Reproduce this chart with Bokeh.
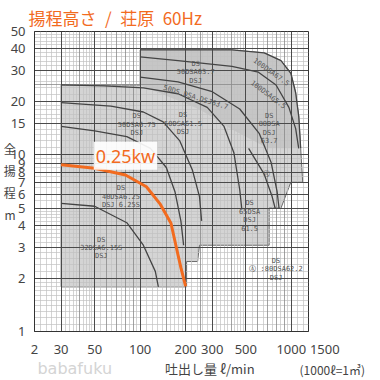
from bokeh.plotting import figure
from bokeh.layouts import column
from bokeh.models import (FixedTicker, Grid, Label, NumeralTickFormatter,
                          ColumnDataSource, Range1d, LinearAxis)
from bokeh.core.properties import value
from bokeh.embed import file_html
from bokeh.resources import INLINE

ORANGE = "#F26B1F"
NUM_FONT = "Noto Sans"
JP_FONT = "Noto Sans CJK JP"
SP = "\u2002"

# ---- axes / ticks ----
x_ticks = [20, 30, 50, 100, 200, 300, 500, 1000, 1300]
x_tick_labels = {20: "2", 1300: SP * 5 + "1500"}
y_ticks = [1, 2, 3, 4, 5, 6, 7, 8, 9, 10, 15, 20, 30, 40, 50]
x_mid = [40, 60, 70, 80, 90, 150, 250, 400, 600, 700, 800, 900]
x_minor = [22, 24, 26, 28, 32, 34, 36, 38, 42, 44, 46, 48, 55, 65, 75, 85, 95,
           110, 120, 130, 140, 160, 170, 180, 190, 220, 240, 260, 280, 320, 340,
           360, 380, 420, 440, 460, 480, 550, 650, 750, 850, 950, 1100, 1200]
y_minor = [1.1, 1.2, 1.3, 1.4, 1.5, 1.6, 1.7, 1.8, 1.9, 2.2, 2.4, 2.6, 2.8,
           3.2, 3.4, 3.6, 3.8, 4.2, 4.4, 4.6, 4.8, 5.5, 6.5, 7.5, 8.5, 9.5,
           11, 12, 13, 14, 16, 17, 18, 19, 22, 24, 26, 28, 32, 34, 36, 38,
           42, 44, 46, 48]
y_mid = [25]

# ---- highlighted pump: 0.25kw ----
q_025 = [30, 50, 80, 110, 135, 160, 172, 186, 200]
h_025 = [8.8, 8.4, 7.7, 6.6, 5.3, 4.1, 3.1, 2.3, 1.8]

# ---- background pump ranges (shaded area) ----
area_q = [30, 100, 100, 405, 662, 855, 993, 1069, 1120, 1154, 1190, 993, 855,
          714, 714, 247, 240, 203, 203, 30]
area_h = [24.9, 24.9, 39.3, 39.3, 37.8, 34.2, 29.0, 22.5, 16.6, 10.9, 7.0, 7.0,
          5.0, 5.0, 3.08, 3.08, 2.49, 2.49, 1.79, 1.79]
top_q = [100, 405, 662, 855, 993, 1069, 1120, 1154, 700, 400, 250, 100]
top_h = [39.3, 39.3, 37.8, 34.2, 29.0, 22.5, 16.6, 10.9, 10.9, 14.0, 18.0, 24.9]

# ---- background pump curves ----
curves_q = [
    [100, 405, 662, 855, 993, 1069, 1120, 1154],
    [100, 178, 405, 606, 793, 964, 1069, 1120],
    [100, 178, 300, 456, 615, 736, 806, 830],
    [30, 57.9, 105, 178, 278, 359, 417, 456, 470],
    [30, 64, 105, 142, 183, 222, 247, 255],
    [30, 50, 81.6, 117, 149, 170, 186, 194],
    [30, 50, 81.6, 105, 126, 132],
    [522, 662, 747, 782],
]
curves_h = [
    [39.3, 39.3, 37.8, 34.2, 29.0, 22.5, 16.6, 10.9],
    [35.9, 34.2, 31.7, 29.4, 24.9, 18.6, 14.1, 10.9],
    [27.6, 25.9, 22.8, 18.2, 13.2, 9.05, 6.19, 4.99],
    [24.9, 24.6, 24.0, 22.2, 18.6, 14.5, 10.3, 6.35, 4.99],
    [19.8, 18.9, 17.5, 15.4, 12.0, 8.18, 5.81, 4.23],
    [14.5, 13.7, 12.7, 10.9, 8.49, 6.19, 4.23, 3.08],
    [5.32, 5.12, 4.13, 3.08, 2.19, 1.79],
    [10.9, 7.78, 5.81, 4.99],
]

# ---- small model labels ----
model_q = [233, 736, 703, 233, 95, 192, 74.6, 55.3, 530, 714, 793, 683]
model_h = [29.4, 29.4, 21.9, 21.1, 14.8, 15.0, 5.81, 2.97, 4.51, 14.1, 2.25, 7.78]
model_text = ["DS\n50DSA63.7\nDSJ", "100DSA67.5", "100DSA65.5", "50DS.DSA.DSJ63.7",
              "DS\n50DSA6.75\nDSJ", "DS\n50DSA61.5\nDSJ", "DS\n40DSA6.25\nDSJ 6.25S",
              "DS\n32DSA6.15S\nDSJ", "DS\n65DSA\nDSJ\n61.5", "DS\n80DSA\nDSJ\n63.7",
              "DS\nⒶ :80DSA62.2\nDSJ", "Ⓐ"]
model_angle = [0, -0.62, -0.65, -0.3, 0, 0, 0, 0, 0, 0, 0, 0]

# ---- caption row ----
unit_note = "(1000ℓ=1㎥)"
unit_note_row = 8

p = figure(width=380, height=360, x_axis_type="log", y_axis_type="log",
           x_range=(20, 1300), y_range=(1, 50),
           title="揚程高さ" + SP + "/" + SP + "荘原" + SP + "60Hz",
           output_backend="svg", toolbar_location=None,
           min_border_left=29, min_border_right=72, min_border_top=30,
           min_border_bottom=21, background_fill_color="white",
           border_fill_color="white")
p.title.text_font = JP_FONT
p.title.text_font_size = "17px"
p.title.text_font_style = "normal"
p.title.text_color = ORANGE
p.title.align = "left"
p.title.offset = -6
p.title.standoff = 4

p.outline_line_color = "#333333"
p.outline_line_width = 1

# grids: minor, mid, major
p.xgrid.ticker = FixedTicker(ticks=x_minor)
p.ygrid.ticker = FixedTicker(ticks=y_minor)
for g in (p.xgrid, p.ygrid):
    g.grid_line_color = "#c2c2c2"
    g.grid_line_width = 0.7
p.add_layout(Grid(dimension=0, ticker=FixedTicker(ticks=x_mid),
                  grid_line_color="#8a8a8a", grid_line_width=0.8))
p.add_layout(Grid(dimension=1, ticker=FixedTicker(ticks=y_mid),
                  grid_line_color="#8a8a8a", grid_line_width=0.8))
p.add_layout(Grid(dimension=0, ticker=FixedTicker(ticks=x_ticks),
                  grid_line_color="#4a4a4a", grid_line_width=1))
p.add_layout(Grid(dimension=1, ticker=FixedTicker(ticks=y_ticks),
                  grid_line_color="#4a4a4a", grid_line_width=1))

# shaded ranges (below grid)
p.patch(area_q, area_h, fill_color="#d4d4d4", line_color="#6a6a6a",
        line_width=1, level="image")
p.patch(top_q, top_h, fill_color="#c6c6c6", line_color=None, level="image")

p.multi_line(curves_q, curves_h, line_color="#444444", line_width=1.3)

src = ColumnDataSource(dict(x=model_q, y=model_h, t=model_text, a=model_angle))
p.text("x", "y", text="t", angle="a", source=src, text_font_size="7px",
       text_color="#555555", text_align="center", text_baseline="middle",
       text_line_height=1.05, text_font=value("DejaVu Sans Mono"))

p.line(q_025, h_025, line_color=ORANGE, line_width=3)

p.add_layout(Label(x=80, y=9.9, text="0.25kw", text_color=ORANGE,
                   text_font_size="18px", text_font=NUM_FONT,
                   text_align="center", text_baseline="middle",
                   background_fill_color="white", background_fill_alpha=0.9,
                   padding=2))

# axes
p.xaxis.ticker = FixedTicker(ticks=x_ticks)
p.yaxis.ticker = FixedTicker(ticks=y_ticks)
p.xaxis.formatter = NumeralTickFormatter(format="0")
p.yaxis.formatter = NumeralTickFormatter(format="0")
p.xaxis.major_label_overrides = x_tick_labels
for ax in (p.xaxis, p.yaxis):
    ax.axis_line_color = "#333333"
    ax.major_tick_line_color = None
    ax.minor_tick_line_color = None
    ax.major_label_text_font = NUM_FONT
    ax.major_label_text_font_size = "13px"
    ax.major_label_text_color = "#444444"
    ax.major_label_standoff = 3
p.xaxis.major_label_standoff = 2

p.yaxis.axis_label = "全\n揚\n程\nm"
p.yaxis.axis_label_orientation = "horizontal"
p.yaxis.axis_label_standoff = -8
p.yaxis.axis_label_text_font = JP_FONT
p.yaxis.axis_label_text_font_size = "12px"
p.yaxis.axis_label_text_font_style = "normal"
p.yaxis.axis_label_text_color = "#444444"
p.yaxis.axis_label_text_line_height = 1.3

# ---- bottom strip with the flow caption (same side borders as the chart,
#      x range in page pixels so that it maps 1:1) ----
strip = figure(width=380, height=20, x_range=Range1d(29, 308),
               y_range=Range1d(20, 0), output_backend="svg", title=None,
               toolbar_location=None, min_border_left=29, min_border_right=72,
               min_border_top=0, min_border_bottom=0, x_axis_location=None,
               y_axis_location=None, outline_line_color=None,
               background_fill_color="white", border_fill_color="white")
strip.grid.visible = False
strip.add_layout(Label(x=32, y=8, text="babafuku", text_font="DejaVu Sans",
                       text_font_size="16px", text_color="#d4d4d4",
                       text_align="left", text_baseline="middle"))
strip.add_layout(Label(x=162, y=8, text="吐出し量 ℓ/min", text_font=JP_FONT,
                       text_font_size="13px", text_color="#444444",
                       text_align="left", text_baseline="middle"))
# the unit note sits right of the frame: carried by a right-side axis label
note_axis = LinearAxis(ticker=FixedTicker(ticks=[unit_note_row]),
                       major_label_overrides={unit_note_row: unit_note},
                       axis_line_color=None, major_tick_line_color=None,
                       minor_tick_line_color=None, major_label_standoff=-15,
                       major_label_text_font=JP_FONT,
                       major_label_text_font_size="12px",
                       major_label_text_color="#444444")
strip.add_layout(note_axis, "right")

open("out.html", "w").write(file_html(column(p, strip, spacing=0), INLINE))
